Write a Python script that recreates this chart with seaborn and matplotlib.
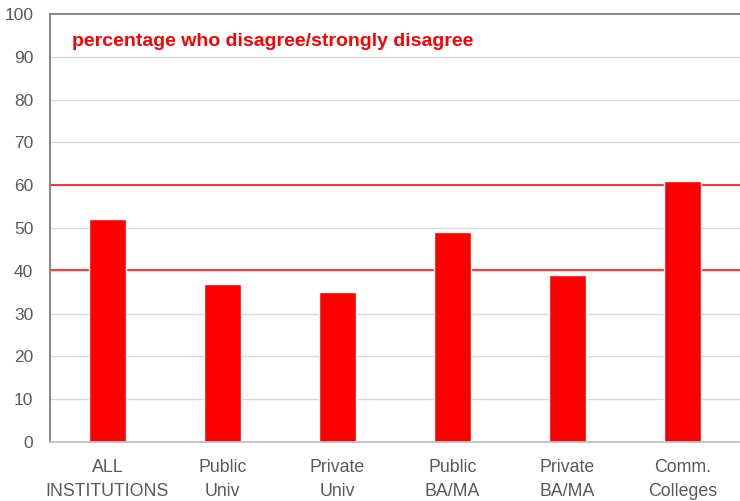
import matplotlib
matplotlib.use("Agg")
import matplotlib.pyplot as plt
import seaborn as sns
import pandas as pd

categories = ["ALL\nINSTITUTIONS", "Public\nUniv", "Private\nUniv", "Public\nBA/MA", "Private\nBA/MA", "Comm.\nColleges"]
values = [52, 37, 35, 49, 39, 61]
ref_lines = [60, 40.3]
yticks = [0, 10, 20, 30, 40, 50, 60, 70, 80, 90, 100]
title_text = "percentage who disagree/strongly disagree"

sns.set_theme(style="white")
plt.rcParams['font.family'] = ['Liberation Sans', 'DejaVu Sans']

df = pd.DataFrame({"cat": categories, "val": values})

fig = plt.figure(figsize=(7.40, 5.01), dpi=100)
ax = fig.add_axes([50/740, 1 - 442/501, 690/740, (442-14)/501])

for y in yticks[1:-1]:
    ax.axhline(y, color="#d9d9d9", lw=1, zorder=0)
for y in ref_lines:
    ax.axhline(y, color="#ff0000", lw=1.1, zorder=1)

sns.barplot(data=df, x="cat", y="val", color="#ff0000", saturation=1, width=0.32, ax=ax, zorder=2)

ax.set_ylim(0, 100)
ax.set_xlim(-0.5, 5.5)
ax.set_yticks(yticks)
ax.set_xlabel("")
ax.set_ylabel("")
ax.tick_params(axis="both", length=0, labelsize=12.5, colors="#595959")
ax.tick_params(axis="y", pad=12)
ax.tick_params(axis="x", pad=12)
for lab in ax.get_xticklabels():
    lab.set_linespacing(1.6)
    lab.set_fontsize(12.8)

for s in ["left", "top"]:
    ax.spines[s].set_color("#7f7f7f")
    ax.spines[s].set_linewidth(1.3)
ax.spines["bottom"].set_color("#bfbfbf")
ax.spines["bottom"].set_linewidth(1.3)
ax.spines["right"].set_visible(False)

ax.text(72/740, 1 - 42/501, title_text, transform=fig.transFigure, color="#ff0000",
        fontsize=14, fontweight="bold", va="center", ha="left")

fig.savefig("out.png", dpi=100)
